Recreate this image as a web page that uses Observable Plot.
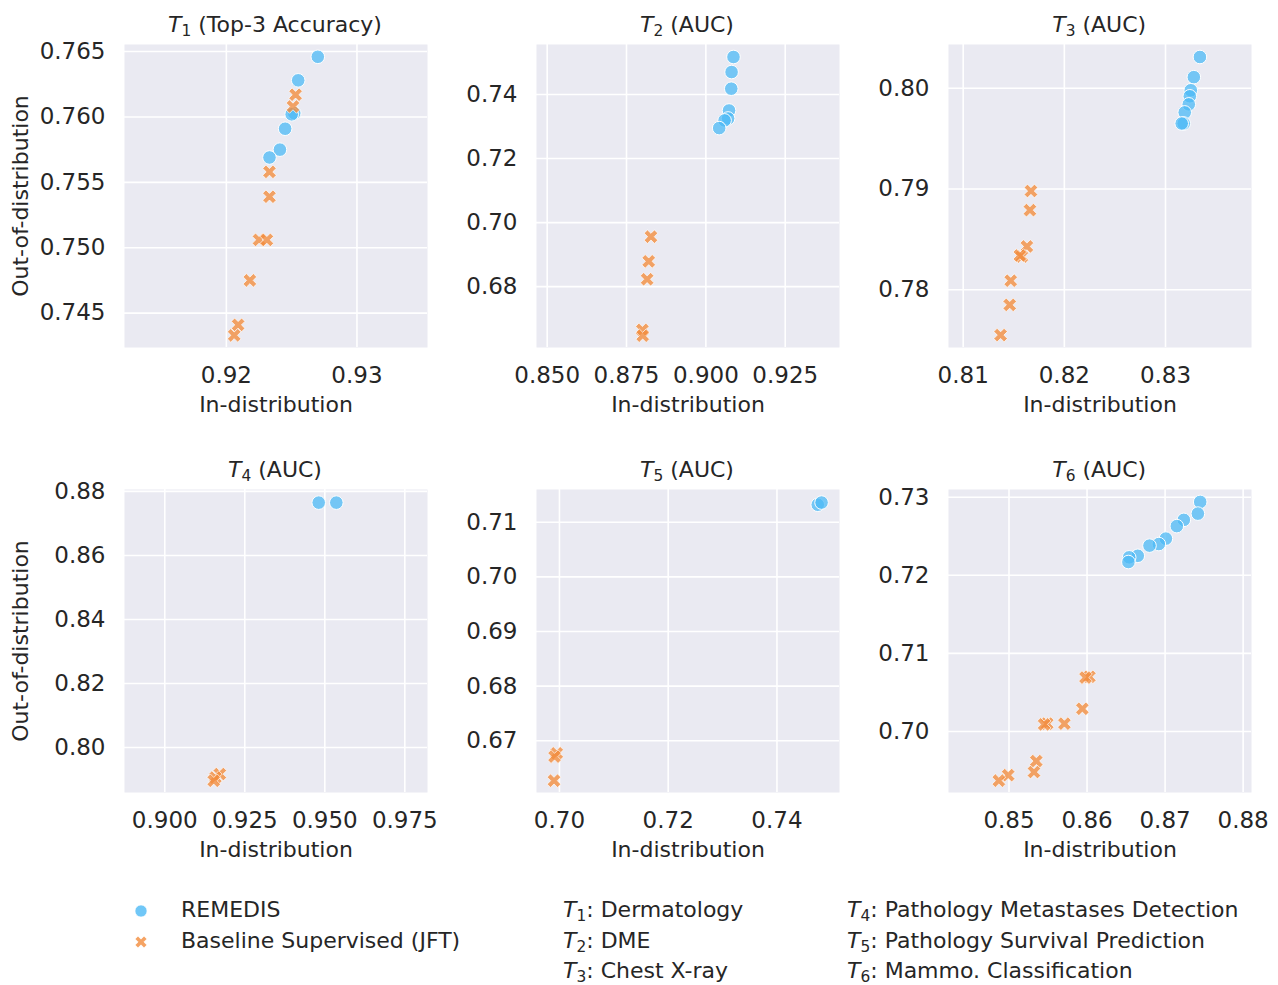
<!DOCTYPE html>
<html>
<head>
<meta charset="utf-8">
<script src="https://cdn.jsdelivr.net/npm/d3@7"></script>
<script src="https://cdn.jsdelivr.net/npm/@observablehq/plot@0.6"></script>
<style>
  body { margin: 0; background: #ffffff; }
  #fig { position: relative; width: 1278px; height: 985px; font-family: "DejaVu Sans", sans-serif; color: #262626; overflow: hidden; }
  .panel { position: absolute; }
  .title { position: absolute; font-size: 22px; line-height: 22px; text-align: center; white-space: nowrap; }
  .s { font-size: 0.7em; position: relative; top: 0.28em; }
  .leg { position: absolute; font-size: 22px; line-height: 30.5px; white-space: nowrap; }
  .sym { position: absolute; }
</style>
</head>
<body>
<div id="fig"></div>
<script>
// ---------------- data ----------------
const seriesNames = ["REMEDIS", "Baseline Supervised (JFT)"];
const taskNames = ["Dermatology", "DME", "Chest X-ray", "Pathology Metastases Detection", "Pathology Survival Prediction", "Mammo. Classification"];
const metricNames = ["Top-3 Accuracy", "AUC", "AUC", "AUC", "AUC", "AUC"];

// T1
const t1RemedisX = [0.9270, 0.9255, 0.9252, 0.9250, 0.9245, 0.9241, 0.9233];
const t1RemedisY = [0.7646, 0.7628, 0.7603, 0.7602, 0.7591, 0.7575, 0.7569];
const t1BaseX = [0.9253, 0.9251, 0.9233, 0.9233, 0.9225, 0.9231, 0.9218, 0.9209, 0.9206];
const t1BaseY = [0.7617, 0.7608, 0.7558, 0.7539, 0.7506, 0.7506, 0.7475, 0.7441, 0.7433];
const t1XTicks = [0.92, 0.93];
const t1YTicks = [0.745, 0.750, 0.755, 0.760, 0.765];
// T2
const t2RemedisX = [0.9087, 0.9081, 0.9080, 0.9073, 0.9070, 0.9059, 0.9042];
const t2RemedisY = [0.7517, 0.7470, 0.7418, 0.7350, 0.7325, 0.7319, 0.7295];
const t2BaseX = [0.8827, 0.8820, 0.8815, 0.8800, 0.8801];
const t2BaseY = [0.6956, 0.6879, 0.6823, 0.6665, 0.6647];
const t2XTicks = [0.850, 0.875, 0.900, 0.925];
const t2YTicks = [0.68, 0.70, 0.72, 0.74];
// T3
const t3RemedisX = [0.8334, 0.8328, 0.8325, 0.8324, 0.8323, 0.8319, 0.8318, 0.8316];
const t3RemedisY = [0.8031, 0.8011, 0.7998, 0.7992, 0.7984, 0.7976, 0.7965, 0.7965];
const t3BaseX = [0.8167, 0.8166, 0.8163, 0.8158, 0.8156, 0.8147, 0.8146, 0.8137];
const t3BaseY = [0.7898, 0.7879, 0.7843, 0.7833, 0.7834, 0.7809, 0.7785, 0.7755];
const t3XTicks = [0.81, 0.82, 0.83];
const t3YTicks = [0.78, 0.79, 0.80];
// T4
const t4RemedisX = [0.9481, 0.9536];
const t4RemedisY = [0.8765, 0.8765];
const t4BaseX = [0.9172, 0.9158, 0.9153];
const t4BaseY = [0.7917, 0.7906, 0.7896];
const t4XTicks = [0.900, 0.925, 0.950, 0.975];
const t4YTicks = [0.80, 0.82, 0.84, 0.86, 0.88];
// T5
const t5RemedisX = [0.7475, 0.7482];
const t5RemedisY = [0.7132, 0.7136];
const t5BaseX = [0.6995, 0.6991, 0.6990];
const t5BaseY = [0.6677, 0.6671, 0.6627];
const t5XTicks = [0.70, 0.72, 0.74];
const t5YTicks = [0.67, 0.68, 0.69, 0.70, 0.71];
// T6
const t6RemedisX = [0.8745, 0.8742, 0.8724, 0.8715, 0.8701, 0.8692, 0.8680, 0.8665, 0.8654, 0.8653];
const t6RemedisY = [0.7294, 0.7279, 0.7271, 0.7263, 0.7247, 0.7240, 0.7238, 0.7225, 0.7223, 0.7217];
const t6BaseX = [0.8603, 0.8598, 0.8594, 0.8571, 0.8549, 0.8545, 0.8535, 0.8532, 0.8499, 0.8487];
const t6BaseY = [0.7070, 0.7069, 0.7029, 0.7010, 0.7010, 0.7009, 0.6962, 0.6948, 0.6944, 0.6937];
const t6XTicks = [0.85, 0.86, 0.87, 0.88];
const t6YTicks = [0.70, 0.71, 0.72, 0.73];

// ---------------- styling / layout ----------------
const BLUE = "#4CB9F5", ORANGE = "#F28C3C", BG = "#EAEAF2", INK = "#262626";
const PW = 303, PH = 303;
const ML = 110, MR = 12, MT = 10, MB = 80;
const colLeft = [123.5, 535.5, 947.7];
const rowTop = [44, 489];

const filledX = {
  draw(context, size) {
    const r = Math.sqrt(size / Math.PI);
    const a = r * 1.12, b = r * 0.36;
    const pts = [[a,b],[b,b],[b,a],[-b,a],[-b,b],[-a,b],[-a,-b],[-b,-b],[-b,-a],[b,-a],[b,-b],[a,-b]];
    const c = Math.SQRT1_2;
    pts.forEach(([x, y], i) => {
      const X = (x - y) * c, Y = (x + y) * c;
      if (i) context.lineTo(X, Y); else context.moveTo(X, Y);
    });
    context.closePath();
  }
};

const panels = [
  {rx: t1RemedisX, ry: t1RemedisY, bx: t1BaseX, by: t1BaseY, xt: t1XTicks, yt: t1YTicks, xd: [0.9122, 0.9354], yd: [0.74237, 0.76554], xf: ".2f", yf: ".3f"},
  {rx: t2RemedisX, ry: t2RemedisY, bx: t2BaseX, by: t2BaseY, xt: t2XTicks, yt: t2YTicks, xd: [0.84664, 0.9421], yd: [0.661, 0.7556], xf: ".3f", yf: ".2f"},
  {rx: t3RemedisX, ry: t3RemedisY, bx: t3BaseX, by: t3BaseY, xt: t3XTicks, yt: t3YTicks, xd: [0.80855, 0.8385], yd: [0.77427, 0.80434], xf: ".2f", yf: ".2f"},
  {rx: t4RemedisX, ry: t4RemedisY, bx: t4BaseX, by: t4BaseY, xt: t4XTicks, yt: t4YTicks, xd: [0.88741, 0.98209], yd: [0.78594, 0.8806], xf: ".3f", yf: ".2f"},
  {rx: t5RemedisX, ry: t5RemedisY, bx: t5BaseX, by: t5BaseY, xt: t5XTicks, yt: t5YTicks, xd: [0.69578, 0.7515], yd: [0.66053, 0.71599], xf: ".2f", yf: ".2f"},
  {rx: t6RemedisX, ry: t6RemedisY, bx: t6BaseX, by: t6BaseY, xt: t6XTicks, yt: t6YTicks, xd: [0.84225, 0.88107], yd: [0.69218, 0.73099], xf: ".2f", yf: ".2f"}
];

const fig = document.getElementById("fig");

panels.forEach((p, k) => {
  const col = k % 3, row = Math.floor(k / 3);
  const remedis = p.rx.map((x, i) => ({x, y: p.ry[i], s: seriesNames[0]}));
  const base = p.bx.map((x, i) => ({x, y: p.by[i], s: seriesNames[1]}));
  const marks = [
    Plot.frame({fill: BG, stroke: null}),
    Plot.gridX(p.xt, {stroke: "white", strokeOpacity: 1, strokeWidth: 1.6}),
    Plot.gridY(p.yt, {stroke: "white", strokeOpacity: 1, strokeWidth: 1.6}),
    Plot.axisX(p.xt, {tickSize: 0, tickPadding: 19, tickFormat: d3.format(p.xf), fontSize: 23, label: null}),
    Plot.axisY(p.yt, {tickSize: 0, tickPadding: 19, tickFormat: d3.format(p.yf), fontSize: 23, label: null}),
    Plot.dot(remedis, {x: "x", y: "y", r: 6.8, fill: BLUE, fillOpacity: 0.75, stroke: "white", strokeWidth: 1}),
    Plot.dot(base, {x: "x", y: "y", r: 6.5, symbol: filledX, fill: ORANGE, fillOpacity: 0.78, stroke: "white", strokeWidth: 0.7}),
    Plot.text(["In-distribution"], {text: d => d, frameAnchor: "bottom", lineAnchor: "top", dy: 49, fontSize: 22, fill: INK})
  ];
  if (col === 0) {
    marks.push(Plot.text(["Out-of-distribution"], {text: d => d, frameAnchor: "left", textAnchor: "middle", rotate: -90, dx: -104, lineAnchor: "middle", fontSize: 22, fill: INK}));
  }
  const chart = Plot.plot({
    width: ML + PW + MR,
    height: MT + PH + MB,
    marginLeft: ML, marginRight: MR, marginTop: MT, marginBottom: MB,
    x: {domain: p.xd},
    y: {domain: p.yd},
    style: {fontFamily: "DejaVu Sans, sans-serif", fontSize: "22px", color: INK, background: "none", overflow: "visible"},
    marks
  });
  const holder = document.createElement("div");
  holder.className = "panel";
  holder.style.left = (colLeft[col] - ML) + "px";
  holder.style.top = (rowTop[row] - MT) + "px";
  holder.appendChild(chart);
  fig.appendChild(holder);

  const t = document.createElement("div");
  t.className = "title";
  t.style.left = colLeft[col] + "px";
  t.style.width = PW + "px";
  t.style.top = (rowTop[row] - 30.5) + "px";
  t.innerHTML = `<i>T</i><span class="s">${k + 1}</span> (${metricNames[k]})`;
  fig.appendChild(t);
});

// ---------------- legend ----------------
function symbolSvg(kind, cx, cy) {
  const s = document.createElementNS("http://www.w3.org/2000/svg", "svg");
  s.setAttribute("width", 20); s.setAttribute("height", 20);
  s.setAttribute("class", "sym");
  s.style.left = (cx - 10) + "px"; s.style.top = (cy - 10) + "px";
  const sym = kind === 0 ? d3.symbol(d3.symbolCircle, Math.PI * 6 * 6) : d3.symbol(filledX, Math.PI * 5.6 * 5.6);
  const path = document.createElementNS("http://www.w3.org/2000/svg", "path");
  path.setAttribute("d", sym());
  path.setAttribute("transform", "translate(10,10)");
  path.setAttribute("fill", kind === 0 ? BLUE : ORANGE);
  path.setAttribute("fill-opacity", 0.8);
  path.setAttribute("stroke", "white");
  path.setAttribute("stroke-width", 0.6);
  s.appendChild(path);
  return s;
}
const legTop = 895;
seriesNames.forEach((n, i) => {
  fig.appendChild(symbolSvg(i, 141, 911 + i * 30.5));
  const d = document.createElement("div");
  d.className = "leg";
  d.style.left = "181px";
  d.style.top = (legTop + i * 30.5) + "px";
  d.textContent = n;
  fig.appendChild(d);
});
taskNames.forEach((n, i) => {
  const d = document.createElement("div");
  d.className = "leg";
  d.style.left = (i < 3 ? 563 : 847) + "px";
  d.style.top = (legTop + (i % 3) * 30.5) + "px";
  d.innerHTML = `<i>T</i><span class="s">${i + 1}</span>: ${n}`;
  fig.appendChild(d);
});
</script>
</body>
</html>
